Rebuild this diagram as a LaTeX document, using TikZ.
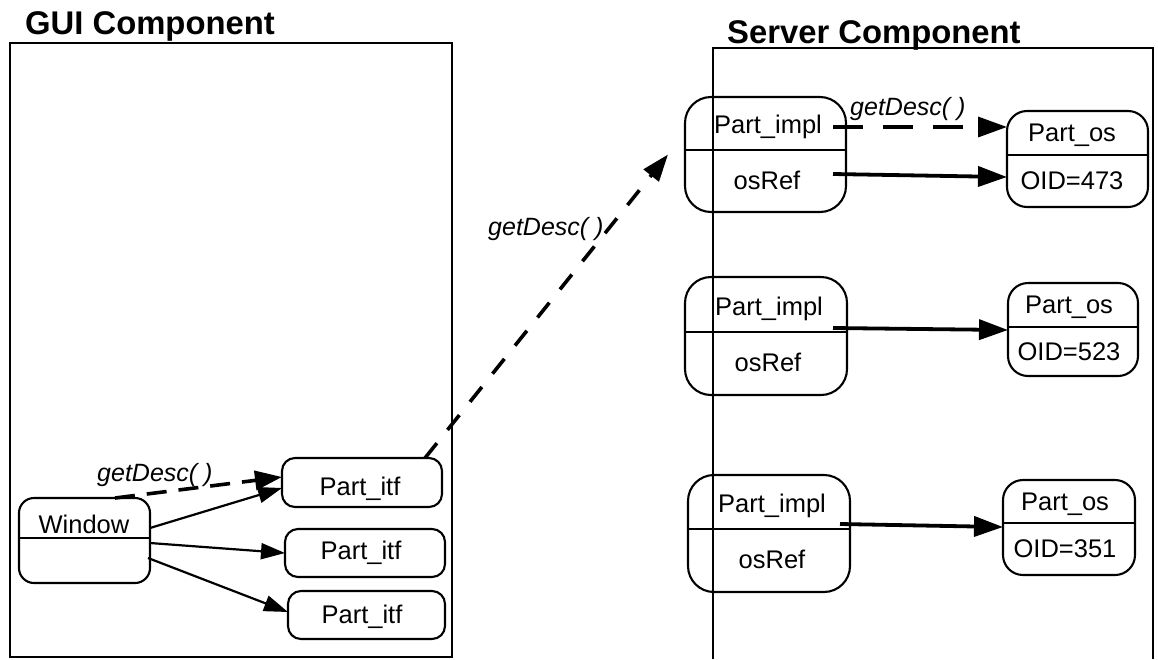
\documentclass[tikz,border=0pt]{standalone}
\usepackage{fontspec}
\setmainfont{Liberation Sans}
\usetikzlibrary{arrows.meta}
\begin{document}
\begin{tikzpicture}[x=1pt,y=-1pt,
  frame/.style={draw, line width=1.6pt},
  objbox/.style={draw, line width=2.1pt, inner sep=0pt, outer sep=0pt},
  txt/.style={font=\fontsize{25.5}{30}\selectfont, anchor=base, inner sep=0pt},
  msg/.style={font=\itshape\fontsize{25}{30}\selectfont, anchor=base west, inner sep=0pt},
  heading/.style={font=\bfseries\fontsize{32.8}{38}\selectfont, anchor=base west, inner sep=0pt},
  divider/.style={line width=1.4pt},
  link/.style={line width=2.2pt, -{Triangle[length=24pt,width=16pt]}},
  reflink/.style={line width=3.8pt, -{Triangle[length=29pt,width=20pt]}},
  call/.style={line width=3.6pt, dash pattern=on 19pt off 17pt, -{Triangle[length=27pt,width=19pt]}},
  srvcall/.style={line width=3.4pt, dash pattern=on 30pt off 20pt, -{Triangle[length=29pt,width=20pt]}}
]
\useasboundingbox (0,0) rectangle (1158,659);

% component frames and headings
\draw[frame] (10,43) rectangle (452,657);
\draw[frame] (713,659) -- (713,48) -- (1153,48) -- (1153,659);
\node[heading] (guihead) at (25,34) {GUI Component};
\node[heading] (srvhead) at (727,43) {Server Component};

% GUI side objects
\node[objbox, rounded corners=15pt, minimum width=131pt, minimum height=85pt] (win) at (84.5,540.5) {};
\draw[divider] (win.west |- 0,538) -- (win.east |- 0,538);
\node[txt] (wint) at (84,533) {Window};

\node[objbox, rounded corners=13pt, minimum width=160pt, minimum height=49pt] (itfa) at (362,482.5) {};
\node[txt] (itfat) at (360,495) {Part\_itf};
\node[objbox, rounded corners=13pt, minimum width=160pt, minimum height=48pt] (itfb) at (365,553) {};
\node[txt] (itfbt) at (361,559) {Part\_itf};
\node[objbox, rounded corners=13pt, minimum width=157pt, minimum height=48pt] (itfc) at (366.5,615) {};
\node[txt] (itfct) at (362,623) {Part\_itf};

% server side objects
\node[objbox, rounded corners=26pt, minimum width=161pt, minimum height=115pt] (impla) at (765.5,154.5) {};
\draw[divider] (impla.west |- 0,150) -- (impla.east |- 0,150);
\node[txt] (implat) at (768,133) {Part\_impl};
\node[txt] (refat) at (767,189) {osRef};

\node[objbox, rounded corners=20pt, minimum width=141pt, minimum height=96pt] (osa) at (1077.5,159) {};
\draw[divider] (osa.west |- 0,155) -- (osa.east |- 0,155);
\node[txt] (osat) at (1072,141) {Part\_os};
\node[txt] (oida) at (1072,189) {OID=473};

\node[objbox, rounded corners=26pt, minimum width=162pt, minimum height=118pt] (implb) at (766,336) {};
\draw[divider] (implb.west |- 0,332) -- (implb.east |- 0,332);
\node[txt] (implbt) at (769,315) {Part\_impl};
\node[txt] (refbt) at (768,371) {osRef};

\node[objbox, rounded corners=20pt, minimum width=130pt, minimum height=93pt] (osb) at (1073,329.5) {};
\draw[divider] (osb.west |- 0,327) -- (osb.east |- 0,327);
\node[txt] (osbt) at (1069,313) {Part\_os};
\node[txt] (oidb) at (1069,360) {OID=523};

\node[objbox, rounded corners=26pt, minimum width=162pt, minimum height=117pt] (implc) at (769,533.5) {};
\draw[divider] (implc.west |- 0,529) -- (implc.east |- 0,529);
\node[txt] (implct) at (772,512) {Part\_impl};
\node[txt] (refct) at (772,568) {osRef};

\node[objbox, rounded corners=20pt, minimum width=132pt, minimum height=95pt] (osc) at (1069,527.5) {};
\draw[divider] (osc.west |- 0,523) -- (osc.east |- 0,523);
\node[txt] (osct) at (1065,510) {Part\_os};
\node[txt] (oidc) at (1065,557) {OID=351};

% GUI side connectors
\draw[call, dash pattern=on 20pt off 12pt] ([xshift=30.5pt]win.north) -- ([yshift=5.5pt]itfa.west);
\node[msg] (msga) at (97,481) {getDesc( )};
\draw[link] ([yshift=12.5pt]win.east) -- ([yshift=-5.5pt]itfa.west);
\draw[link] ([yshift=-2.5pt]win.east) -- (itfb.west);
\draw[link] ([xshift=-2pt,yshift=-17.5pt]win.east) -- ([yshift=3pt]itfc.west);

% remote call into the server
\coordinate (callend) at ([xshift=-17pt]impla.west);
\draw[call] ([xshift=63pt]itfa.north) -- (callend);
\node[msg] (msgb) at (488,235) {getDesc( )};

% server side connectors
\draw[srvcall] ([xshift=-13pt,yshift=27.5pt]impla.east) -- ([yshift=32pt]osa.west);
\node[msg] (msgc) at (850,115) {getDesc( )};
\draw[reflink] ([xshift=-13pt,yshift=-19.5pt]impla.east) -- ([yshift=-18pt]osa.west);
\draw[reflink] ([xshift=-14pt,yshift=8pt]implb.east) -- ([yshift=-0.5pt]osb.west);
\draw[reflink] ([xshift=-10pt,yshift=9.5pt]implc.east) -- ([yshift=0.5pt]osc.west);
\end{tikzpicture}
\end{document}
